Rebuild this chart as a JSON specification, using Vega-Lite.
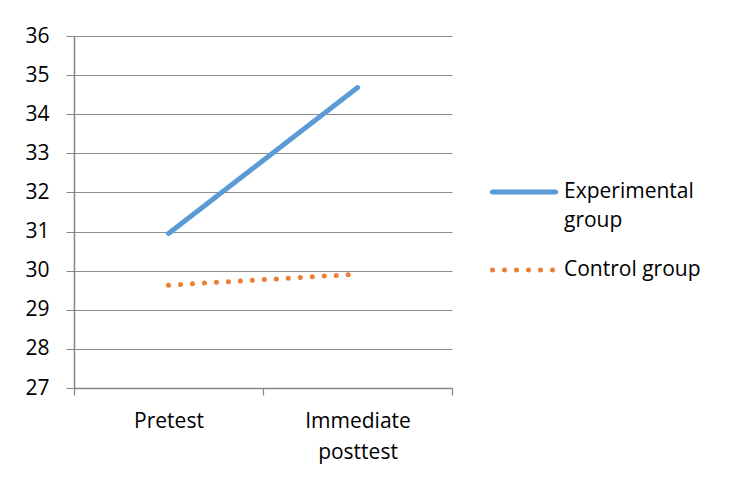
{
  "$schema": "https://vega.github.io/schema/vega-lite/v6.json",
  "width": 378,
  "height": 352,
  "autosize": "none",
  "padding": {"left": 74, "top": 36, "right": 278, "bottom": 90},
  "background": "white",
  "config": {"view": {"stroke": null}, "font": "Open Sans"},
  "data": {"values": [
    {"test": "Pretest", "group": "Experimental group", "score": 30.95},
    {"test": "Immediate posttest", "group": "Experimental group", "score": 34.68},
    {"test": "Pretest", "group": "Control group", "score": 29.63},
    {"test": "Immediate posttest", "group": "Control group", "score": 29.91}
  ]},
  "mark": {"type": "line", "strokeWidth": 5, "strokeCap": "round"},
  "encoding": {
    "x": {
      "field": "test", "type": "nominal", "sort": ["Pretest", "Immediate posttest"],
      "scale": {"type": "band", "paddingInner": 0, "paddingOuter": 0},
      "axis": {
        "title": null, "tickBand": "extent", "labelAngle": 0,
        "labelExpr": "datum.label == 'Immediate posttest' ? ['Immediate', 'posttest'] : datum.label",
        "labelFontSize": 21, "labelLineHeight": 31, "labelColor": "black", "labelPadding": 15,
        "tickSize": 7, "tickColor": "#868686", "domainColor": "#868686", "domainWidth": 1.5, "tickWidth": 1.2,
        "grid": false
      }
    },
    "y": {
      "field": "score", "type": "quantitative",
      "scale": {"domain": [27, 36], "nice": false, "zero": false},
      "axis": {
        "title": null, "values": [27, 28, 29, 30, 31, 32, 33, 34, 35, 36],
        "labelFontSize": 21, "labelColor": "black", "labelPadding": 17,
        "tickSize": 8, "tickColor": "#868686", "domainColor": "#868686", "domainWidth": 1.5,
        "grid": true, "gridColor": "#8c8c8c", "gridWidth": 1.2
      }
    },
    "color": {
      "field": "group", "type": "nominal", "sort": ["Experimental group", "Control group"],
      "scale": {"range": ["#5B9BD5", "#ED7D31"]},
      "legend": {
        "title": null, "orient": "none", "legendX": 416, "legendY": 122,
        "symbolType": "stroke", "symbolSize": 3969, "symbolStrokeWidth": 5,
        "labelFontSize": 21, "labelColor": "black",
        "labelExpr": "datum.label == 'Experimental group' ? ['Experimental', 'group'] : datum.label",
        "labelOffset": 6, "rowPadding": 5,
        "encode": {
          "symbols": {"update": {
            "strokeCap": {"value": "round"},
            "strokeDash": {"signal": "datum.value == 'Control group' ? [0, 12] : [1, 0]"}
          }},
          "labels": {"update": {"lineHeight": {"value": 29}}}
        }
      }
    },
    "strokeDash": {
      "field": "group", "type": "nominal", "sort": ["Experimental group", "Control group"],
      "scale": {"range": [[1, 0], [0, 12]]},
      "legend": null
    }
  }
}
